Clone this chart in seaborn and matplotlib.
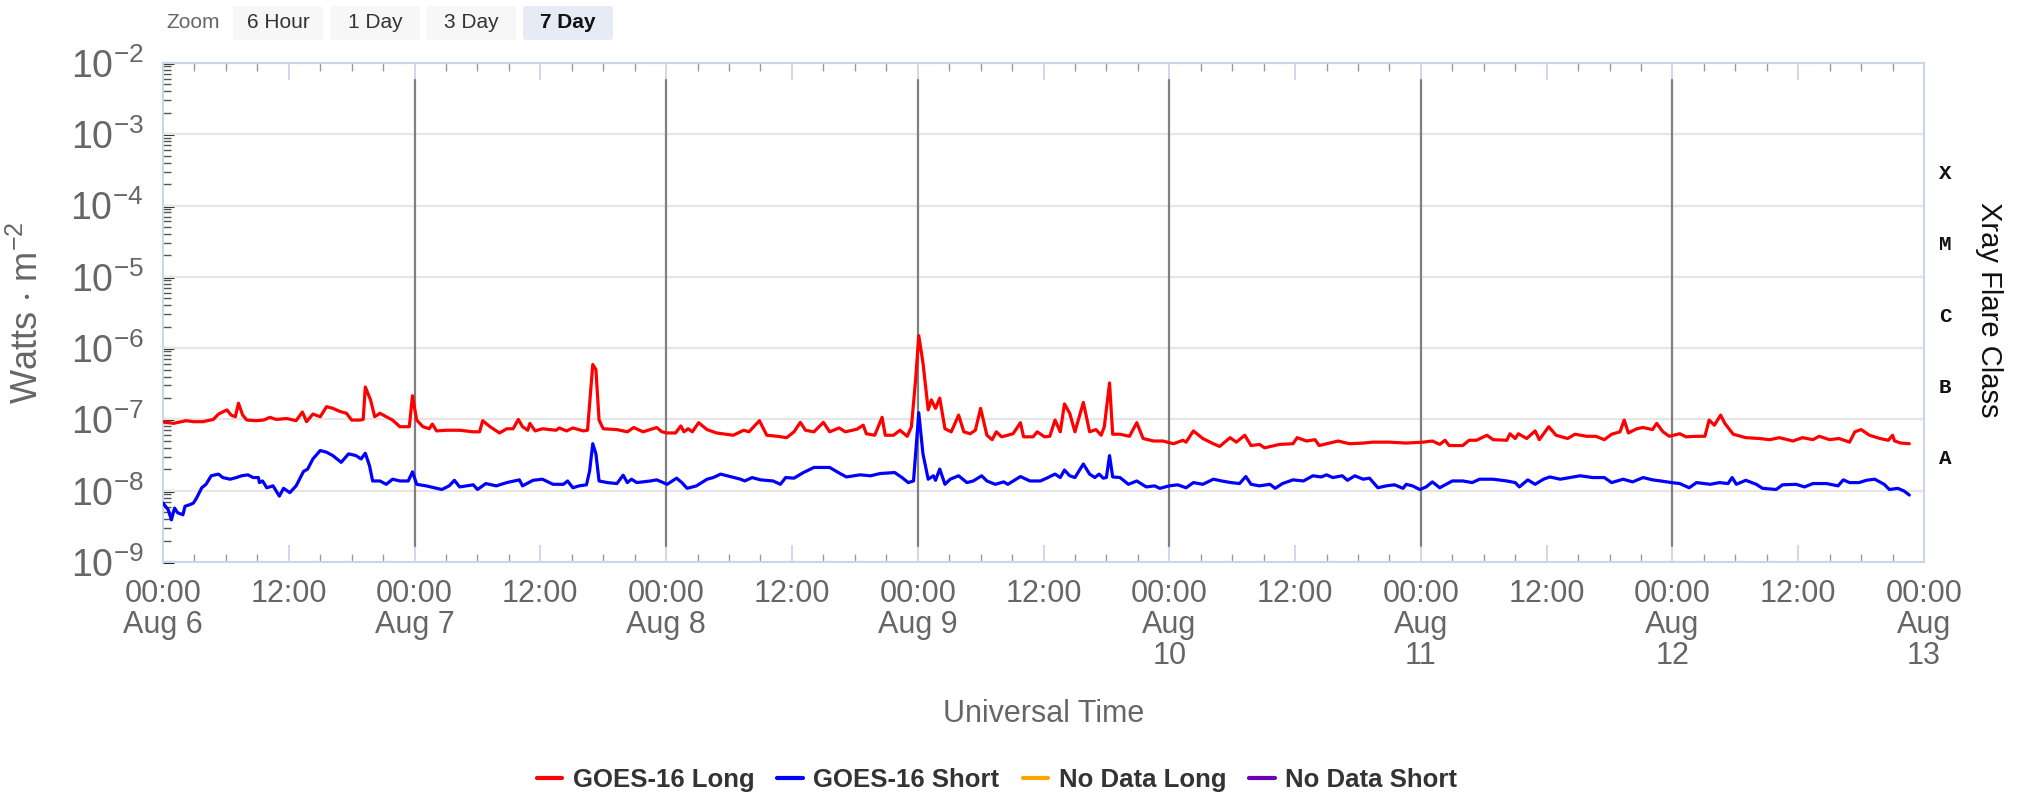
import numpy as np
import pandas as pd
import matplotlib
matplotlib.use("Agg")
import matplotlib.pyplot as plt
import seaborn as sns
from matplotlib.lines import Line2D
from matplotlib.patches import FancyBboxPatch
from matplotlib.ticker import FixedLocator, LogLocator, NullFormatter

# ---------------- data (hours since 2023-08-06 00:00 UTC, W/m^2) ----------------
long_hours = [0.0, 1.0, 2.2, 2.9, 3.8, 4.8, 5.3, 6.1, 6.5, 6.9, 7.2, 7.6, 8.0, 8.9, 9.6, 10.2, 10.8, 11.8,
              12.7, 13.3, 13.7, 14.3, 15.0, 15.6, 16.2, 16.9, 17.5, 18.0, 18.8, 19.1, 19.3, 19.8, 20.2, 20.7,
              21.3, 21.9, 22.6, 23.5, 23.8, 24.2, 24.8, 25.4, 25.7, 26.1, 27.0, 28.3, 29.6, 30.2, 30.5, 31.2,
              32.1, 32.8, 33.4, 33.9, 34.3, 34.8, 35.0, 35.5, 36.2, 37.5, 37.8, 38.5, 39.1, 40.1, 40.5, 41.0,
              41.3, 41.6, 42.0, 43.3, 44.3, 44.9, 45.8, 47.1, 47.6, 48.1, 48.9, 49.4, 49.7, 50.1, 50.5, 51.1,
              51.9, 52.8, 54.4, 55.4, 55.9, 56.9, 57.6, 58.6, 59.5, 60.2, 60.8, 61.3, 62.1, 63.0, 63.6, 64.5,
              65.1, 66.2, 66.8, 67.1, 67.9, 68.6, 68.9, 69.7, 70.3, 71.0, 71.4, 71.8, 72.1, 72.5, 73.0, 73.3,
              73.7, 74.1, 74.6, 75.2, 75.9, 76.4, 77.0, 77.5, 78.0, 78.6, 79.1, 79.5, 80.0, 81.1, 81.8, 82.1,
              83.0, 83.4, 84.1, 84.6, 85.1, 85.6, 86.0, 86.5, 87.0, 87.8, 88.4, 89.0, 89.5, 89.8, 90.3, 90.6,
              91.3, 92.2, 92.9, 93.5, 94.5, 95.4, 96.4, 97.3, 97.6, 98.3, 99.2, 100.2, 100.8, 101.8, 102.4,
              103.2, 103.8, 104.6, 105.1, 106.5, 107.8, 108.2, 109.1, 109.9, 110.3, 111.3, 112.1, 113.2,
              114.5, 115.4, 117.0, 118.6, 120.2, 121.1, 121.8, 122.3, 122.7, 124.0, 124.6, 125.3, 126.3,
              126.9, 128.2, 128.5, 129.0, 129.3, 130.1, 130.9, 131.3, 132.2, 132.9, 134.0, 134.7, 135.8,
              136.7, 137.5, 138.2, 139.0, 139.4, 139.8, 140.6, 141.2, 142.1, 142.5, 143.1, 143.7, 144.7,
              145.3, 146.3, 147.1, 147.5, 148.0, 148.6, 149.0, 149.8, 151.0, 152.3, 153.3, 154.2, 155.5,
              156.4, 157.4, 158.0, 159.0, 159.9, 160.9, 161.4, 162.0, 162.8, 163.8, 164.6, 165.0, 165.2,
              165.8, 166.6]
long_flux = [9.3e-8, 8.8e-8, 9.6e-8, 9.3e-8, 9.3e-8, 1.0e-7, 1.19e-7, 1.36e-7, 1.15e-7, 1.09e-7, 1.69e-7,
             1.15e-7, 9.8e-8, 9.6e-8, 9.8e-8, 1.07e-7, 1.0e-7, 1.03e-7, 9.6e-8, 1.27e-7, 9.3e-8, 1.19e-7,
             1.09e-7, 1.51e-7, 1.43e-7, 1.29e-7, 1.22e-7, 9.8e-8, 9.8e-8, 1.0e-7, 2.85e-7, 1.88e-7, 1.09e-7,
             1.22e-7, 1.09e-7, 9.8e-8, 7.9e-8, 7.9e-8, 2.15e-7, 9.8e-8, 7.9e-8, 7.4e-8, 8.6e-8, 6.9e-8,
             7.05e-8, 7.05e-8, 6.7e-8, 6.7e-8, 9.6e-8, 7.9e-8, 6.46e-8, 7.4e-8, 7.4e-8, 1.0e-7, 7.9e-8,
             7.05e-8, 8.8e-8, 6.9e-8, 7.4e-8, 7.05e-8, 7.6e-8, 6.9e-8, 7.6e-8, 6.9e-8, 7.05e-8, 5.9e-7,
             5.0e-7, 9.8e-8, 7.4e-8, 7.2e-8, 6.7e-8, 7.7e-8, 6.7e-8, 7.7e-8, 6.7e-8, 6.46e-8, 6.46e-8,
             8.1e-8, 6.7e-8, 7.4e-8, 6.7e-8, 9.0e-8, 7.2e-8, 6.46e-8, 6.0e-8, 7.05e-8, 6.7e-8, 9.6e-8,
             6.0e-8, 5.8e-8, 5.55e-8, 6.7e-8, 9.1e-8, 7.05e-8, 6.7e-8, 9.1e-8, 6.7e-8, 7.6e-8, 6.7e-8,
             7.3e-8, 8.3e-8, 6.3e-8, 6.0e-8, 1.07e-7, 6.0e-8, 6.0e-8, 7.05e-8, 5.8e-8, 7.9e-8, 3.62e-7,
             1.5e-6, 6.25e-7, 1.36e-7, 1.88e-7, 1.43e-7, 1.99e-7, 7.4e-8, 6.7e-8, 1.15e-7, 6.7e-8, 6.3e-8,
             7.05e-8, 1.43e-7, 6.0e-8, 5.2e-8, 6.7e-8, 5.7e-8, 6.3e-8, 9.0e-8, 5.7e-8, 5.7e-8, 6.7e-8,
             5.7e-8, 5.8e-8, 9.8e-8, 6.7e-8, 1.65e-7, 1.22e-7, 6.7e-8, 1.73e-7, 6.7e-8, 7.2e-8, 6.0e-8,
             7.9e-8, 3.25e-7, 6.2e-8, 6.2e-8, 5.8e-8, 9.0e-8, 5.4e-8, 4.98e-8, 4.98e-8, 4.56e-8, 5.1e-8,
             4.8e-8, 6.9e-8, 5.4e-8, 4.56e-8, 4.18e-8, 5.55e-8, 4.8e-8, 6.0e-8, 4.3e-8, 4.46e-8, 4.0e-8,
             4.46e-8, 4.56e-8, 5.55e-8, 4.98e-8, 5.2e-8, 4.3e-8, 4.66e-8, 4.98e-8, 4.56e-8, 4.66e-8, 4.8e-8,
             4.8e-8, 4.66e-8, 4.8e-8, 4.98e-8, 4.46e-8, 5.1e-8, 4.3e-8, 4.3e-8, 5.1e-8, 5.1e-8, 6.0e-8,
             5.2e-8, 5.1e-8, 6.3e-8, 5.4e-8, 6.3e-8, 5.4e-8, 6.9e-8, 5.2e-8, 7.9e-8, 6.0e-8, 5.4e-8, 6.2e-8,
             5.8e-8, 5.8e-8, 5.2e-8, 6.2e-8, 6.7e-8, 9.8e-8, 6.46e-8, 7.4e-8, 7.7e-8, 7.2e-8, 8.8e-8, 6.7e-8,
             5.8e-8, 6.3e-8, 5.7e-8, 5.8e-8, 5.8e-8, 9.8e-8, 8.3e-8, 1.15e-7, 8.8e-8, 6.2e-8, 5.55e-8,
             5.4e-8, 5.2e-8, 5.55e-8, 4.98e-8, 5.55e-8, 5.2e-8, 5.8e-8, 5.2e-8, 5.4e-8, 4.8e-8, 6.7e-8,
             7.2e-8, 6.0e-8, 5.4e-8, 5.1e-8, 6.0e-8, 4.98e-8, 4.66e-8, 4.56e-8]

short_hours = [0.0, 0.5, 0.8, 1.1, 1.4, 1.9, 2.1, 2.6, 2.9, 3.2, 3.7, 4.1, 4.6, 5.3, 5.7, 6.4, 7.0, 7.5, 8.1,
               8.6, 9.1, 9.2, 9.5, 9.9, 10.5, 11.1, 11.5, 12.1, 12.7, 13.4, 13.8, 14.3, 15.0, 15.6, 16.2, 17.0,
               17.7, 18.4, 18.9, 19.3, 19.7, 20.0, 20.7, 21.3, 21.9, 22.6, 23.4, 23.8, 24.2, 25.1, 26.6, 27.3,
               27.8, 28.3, 29.6, 30.0, 30.8, 31.8, 32.8, 34.0, 34.3, 35.3, 36.2, 37.2, 38.2, 38.6, 39.1, 39.7,
               40.4, 40.7, 41.0, 41.3, 41.6, 42.4, 43.3, 43.9, 44.3, 44.7, 45.2, 46.5, 47.1, 48.1, 49.0, 49.5,
               50.0, 50.9, 51.9, 52.5, 53.2, 54.1, 55.1, 55.5, 56.2, 57.0, 58.2, 58.9, 59.4, 60.2, 61.1, 62.1,
               63.6, 64.6, 65.2, 66.5, 67.5, 68.4, 69.8, 70.5, 71.1, 71.6, 72.1, 72.5, 73.0, 73.5, 73.7, 74.1,
               74.6, 75.1, 75.9, 76.7, 77.3, 78.1, 78.6, 79.4, 80.2, 80.6, 81.8, 82.7, 83.7, 84.3, 85.1, 85.6,
               86.0, 86.5, 87.0, 87.8, 88.4, 88.9, 89.3, 89.7, 90.0, 90.3, 90.6, 91.3, 92.1, 92.9, 93.8, 94.6,
               95.1, 96.0, 96.8, 97.6, 98.3, 99.2, 100.2, 101.0, 101.9, 102.7, 103.3, 103.8, 104.6, 105.6,
               106.1, 106.8, 107.8, 108.8, 109.7, 110.5, 111.0, 111.6, 112.5, 113.0, 113.7, 114.5, 115.1,
               115.9, 116.7, 117.5, 118.3, 118.6, 119.2, 119.9, 120.5, 121.1, 121.8, 122.4, 123.0, 124.0,
               124.9, 125.6, 126.9, 128.2, 129.0, 129.4, 130.2, 130.9, 131.7, 132.3, 133.3, 134.2, 135.2,
               136.4, 137.5, 138.2, 139.3, 140.2, 141.2, 142.1, 142.9, 143.9, 144.7, 145.6, 146.3, 147.6,
               148.5, 149.3, 149.7, 150.1, 151.0, 152.0, 152.6, 153.9, 154.5, 155.8, 156.6, 157.4, 158.7,
               159.8, 160.3, 160.9, 161.8, 162.5, 163.3, 164.2, 164.7, 165.5, 166.1, 166.6]
short_flux = [6.7e-9, 5.4e-9, 3.9e-9, 5.7e-9, 4.9e-9, 4.6e-9, 6.05e-9, 6.4e-9, 6.7e-9, 7.9e-9, 1.10e-8,
              1.23e-8, 1.62e-8, 1.71e-8, 1.53e-8, 1.45e-8, 1.53e-8, 1.62e-8, 1.67e-8, 1.53e-8, 1.53e-8,
              1.30e-8, 1.37e-8, 1.10e-8, 1.17e-8, 8.4e-9, 1.08e-8, 9.4e-9, 1.17e-8, 1.86e-8, 2.01e-8,
              2.79e-8, 3.66e-8, 3.47e-8, 3.11e-8, 2.50e-8, 3.29e-8, 3.11e-8, 2.79e-8, 3.36e-8, 2.24e-8,
              1.37e-8, 1.37e-8, 1.23e-8, 1.45e-8, 1.37e-8, 1.37e-8, 1.84e-8, 1.23e-8, 1.17e-8, 1.04e-8,
              1.17e-8, 1.40e-8, 1.13e-8, 1.21e-8, 1.04e-8, 1.26e-8, 1.17e-8, 1.30e-8, 1.42e-8, 1.17e-8,
              1.40e-8, 1.45e-8, 1.23e-8, 1.23e-8, 1.37e-8, 1.10e-8, 1.17e-8, 1.21e-8, 1.90e-8, 4.56e-8,
              3.29e-8, 1.37e-8, 1.30e-8, 1.26e-8, 1.65e-8, 1.30e-8, 1.45e-8, 1.30e-8, 1.37e-8, 1.42e-8,
              1.23e-8, 1.50e-8, 1.30e-8, 1.08e-8, 1.17e-8, 1.45e-8, 1.53e-8, 1.71e-8, 1.58e-8, 1.45e-8,
              1.37e-8, 1.53e-8, 1.42e-8, 1.37e-8, 1.23e-8, 1.53e-8, 1.50e-8, 1.80e-8, 2.12e-8, 2.12e-8,
              1.74e-8, 1.56e-8, 1.67e-8, 1.62e-8, 1.74e-8, 1.80e-8, 1.53e-8, 1.30e-8, 1.37e-8, 1.24e-7,
              3.29e-8, 1.45e-8, 1.62e-8, 1.40e-8, 2.01e-8, 1.23e-8, 1.45e-8, 1.62e-8, 1.30e-8, 1.37e-8,
              1.62e-8, 1.37e-8, 1.23e-8, 1.33e-8, 1.23e-8, 1.58e-8, 1.37e-8, 1.37e-8, 1.50e-8, 1.71e-8,
              1.53e-8, 1.95e-8, 1.62e-8, 1.53e-8, 2.37e-8, 1.71e-8, 1.53e-8, 1.71e-8, 1.50e-8, 1.53e-8,
              3.11e-8, 1.56e-8, 1.53e-8, 1.23e-8, 1.37e-8, 1.13e-8, 1.17e-8, 1.08e-8, 1.17e-8, 1.21e-8,
              1.10e-8, 1.30e-8, 1.23e-8, 1.45e-8, 1.37e-8, 1.30e-8, 1.26e-8, 1.58e-8, 1.23e-8, 1.17e-8,
              1.23e-8, 1.08e-8, 1.26e-8, 1.42e-8, 1.37e-8, 1.62e-8, 1.56e-8, 1.67e-8, 1.53e-8, 1.62e-8,
              1.40e-8, 1.62e-8, 1.45e-8, 1.50e-8, 1.10e-8, 1.17e-8, 1.21e-8, 1.08e-8, 1.23e-8, 1.17e-8,
              1.04e-8, 1.13e-8, 1.33e-8, 1.10e-8, 1.23e-8, 1.37e-8, 1.37e-8, 1.30e-8, 1.45e-8, 1.45e-8,
              1.37e-8, 1.30e-8, 1.13e-8, 1.42e-8, 1.23e-8, 1.45e-8, 1.56e-8, 1.45e-8, 1.53e-8, 1.62e-8,
              1.53e-8, 1.53e-8, 1.30e-8, 1.45e-8, 1.33e-8, 1.53e-8, 1.42e-8, 1.37e-8, 1.30e-8, 1.26e-8,
              1.10e-8, 1.30e-8, 1.23e-8, 1.30e-8, 1.26e-8, 1.53e-8, 1.23e-8, 1.40e-8, 1.23e-8, 1.08e-8,
              1.04e-8, 1.21e-8, 1.23e-8, 1.13e-8, 1.26e-8, 1.26e-8, 1.17e-8, 1.42e-8, 1.30e-8, 1.30e-8,
              1.40e-8, 1.45e-8, 1.23e-8, 1.04e-8, 1.08e-8, 9.9e-9, 8.7e-9]

tick_hours = [0, 12, 24, 36, 48, 60, 72, 84, 96, 108, 120, 132, 144, 156, 168]
tick_labels = ["00:00\nAug 6", "12:00", "00:00\nAug 7", "12:00", "00:00\nAug 8", "12:00",
               "00:00\nAug 9", "12:00", "00:00\nAug\n10", "12:00", "00:00\nAug\n11", "12:00",
               "00:00\nAug\n12", "12:00", "00:00\nAug\n13"]
midnight_hours = [24, 48, 72, 96, 120, 144]
y_decades = [1e-9, 1e-8, 1e-7, 1e-6, 1e-5, 1e-4, 1e-3, 1e-2]
y_labels = [r"$10^{-9}$", r"$10^{-8}$", r"$10^{-7}$", r"$10^{-6}$", r"$10^{-5}$",
            r"$10^{-4}$", r"$10^{-3}$", r"$10^{-2}$"]
flare_classes = ["A", "B", "C", "M", "X"]
flare_levels = [10 ** -7.55, 10 ** -6.55, 10 ** -5.55, 10 ** -4.55, 10 ** -3.55]
legend_names = ["GOES-16 Long", "GOES-16 Short", "No Data Long", "No Data Short"]
legend_colors = ["#ff0000", "#0000ff", "#ffa500", "#6a00b8"]
zoom_buttons = ["6 Hour", "1 Day", "3 Day", "7 Day"]

# ---------------- style ----------------
sns.set_style("white")
plt.rcParams["font.family"] = ["Liberation Sans", "DejaVu Sans"]
plt.rcParams["mathtext.fontset"] = "custom"
plt.rcParams["mathtext.rm"] = "Liberation Sans"
plt.rcParams["mathtext.it"] = "Liberation Sans"
plt.rcParams["mathtext.default"] = "regular"

W, H = 2017, 795
fig = plt.figure(figsize=(W / 100, H / 100), dpi=100)
fig.patch.set_facecolor("white")

L, R, T, B = 163, 1924, 63, 562
ax = fig.add_axes([L / W, (H - B) / H, (R - L) / W, (B - T) / H])

df_long = pd.DataFrame({"hour": long_hours, "flux": long_flux})
df_short = pd.DataFrame({"hour": short_hours, "flux": short_flux})
sns.lineplot(data=df_long, x="hour", y="flux", ax=ax, color=legend_colors[0], lw=2.3,
             estimator=None, legend=False, zorder=4)
sns.lineplot(data=df_short, x="hour", y="flux", ax=ax, color=legend_colors[1], lw=2.3,
             estimator=None, legend=False, zorder=4)

ax.set_yscale("log")
ax.set_ylim(1e-9, 1e-2)
ax.set_xlim(0, 168)

# grid
for v in y_decades:
    ax.axhline(v, color="#e6e6e6", lw=1.6, zorder=1)
for h in midnight_hours:
    ax.axvline(h, ymin=0.032, ymax=0.966, color="#808080", lw=1.6, zorder=2)

for s in ax.spines.values():
    s.set_color("#ccd6eb")
    s.set_linewidth(1.5)

# y ticks
ax.yaxis.set_major_locator(FixedLocator(y_decades))
ax.set_yticklabels(y_labels)
ax.yaxis.set_minor_locator(LogLocator(base=10, subs=np.arange(2, 10) * 1.0, numticks=20))
ax.yaxis.set_minor_formatter(NullFormatter())
ax.tick_params(axis="y", which="major", direction="in", length=8, width=2.2, color="#222222",
               labelsize=27, labelcolor="#666666", pad=14, left=True, right=False)
ax.tick_params(axis="y", which="minor", direction="in", length=6, width=1.0, color="#555555",
               left=True, right=False)

# x ticks
ax.set_xticks(tick_hours)
ax.set_xticklabels(tick_labels, linespacing=1.05)
ax.set_xticks(np.arange(0, 169, 3), minor=True)
ax.tick_params(axis="x", which="major", direction="in", length=12, width=1.3, color="#ccd6eb",
               labelsize=22, labelcolor="#666666", pad=12, bottom=True, top=True)
ax.tick_params(axis="x", which="minor", direction="in", length=6, width=1.0, color="#999999",
               bottom=True, top=True)
ax.set_xlabel("Universal Time", fontsize=22, color="#666666", labelpad=20)
ax.set_ylabel("")

# right side flare classes
trans = matplotlib.transforms.blended_transform_factory(ax.transAxes, ax.transData)
for lab, lev in zip(flare_classes, flare_levels):
    ax.text(1.0119, lev, lab, transform=trans, ha="center", va="center", fontsize=15,
            fontweight="bold", family="Liberation Mono", color="#111111")
ax.text(1.037, 0.505, "Xray Flare Class", transform=ax.transAxes, rotation=270,
        ha="center", va="center", fontsize=21, color="#111111")

fig.text(28 / W, 1 - 313 / H, r"Watts $\cdot$ m$^{-2}$", rotation=90, ha="center", va="center",
         fontsize=26, color="#666666")

# legend
handles = [Line2D([0], [0], color=c, lw=3) for c in legend_colors]
fig.legend(handles, legend_names, loc="center", bbox_to_anchor=(997 / W, 1 - 780 / H), ncol=4,
           frameon=False, prop={"size": 18.5, "weight": "bold"}, handlelength=1.0,
           handletextpad=0.4, columnspacing=0.9, labelcolor="#333333")

# zoom buttons overlay (pixel coordinates)
ov = fig.add_axes([0, 0, 1, 1], zorder=-1)
ov.set_xlim(0, W)
ov.set_ylim(H, 0)
ov.axis("off")
ov.text(193, 22, "Zoom", ha="center", va="center", fontsize=15, color="#666666")
btn_x = [231, 328, 424, 521]
for i, (lab, x0) in enumerate(zip(zoom_buttons, btn_x)):
    sel = lab == "7 Day"
    ov.add_patch(FancyBboxPatch((x0 + 2, 6), 90, 34, boxstyle="round,pad=0,rounding_size=3",
                                facecolor="#e6ebf5" if sel else "#f7f7f7", edgecolor="none"))
    ov.text(x0 + 47, 22, lab, ha="center", va="center", fontsize=15,
            fontweight="bold" if sel else "normal", color="#111111" if sel else "#333333")

fig.savefig("out.png", dpi=100, facecolor="white")
